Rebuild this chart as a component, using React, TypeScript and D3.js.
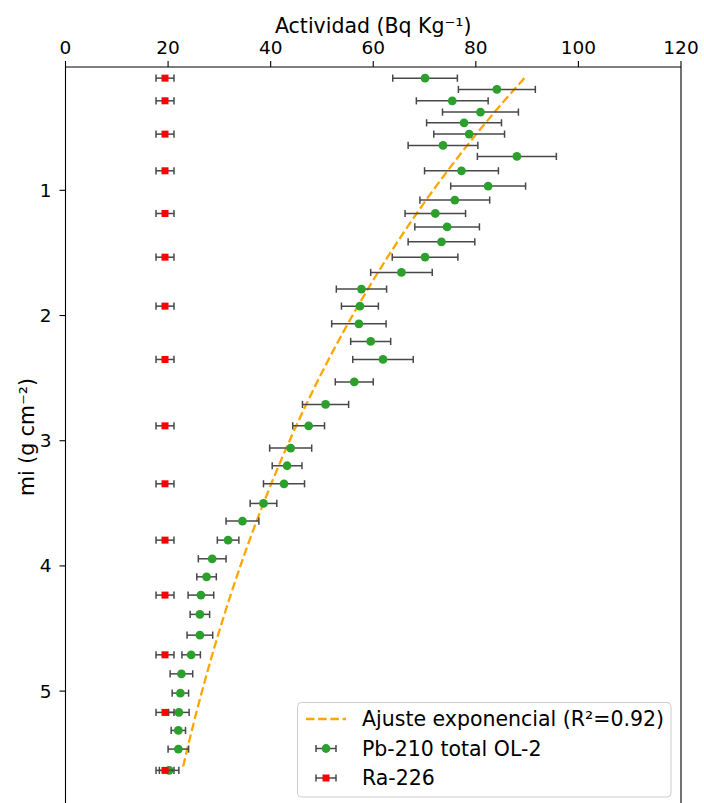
import React, { useEffect, useRef } from 'react';
import * as d3 from 'd3';

// Pb-210 total OL-2 (depth in g cm-2, activity in Bq/kg)
const pbDepth = [0.104, 0.194, 0.285, 0.375, 0.461, 0.551, 0.641, 0.729, 0.844, 0.966, 1.078, 1.185, 1.292, 1.411, 1.534, 1.656, 1.789, 1.925, 2.066, 2.207, 2.351, 2.53, 2.71, 2.881, 3.059, 3.2, 3.344, 3.501, 3.642, 3.794, 3.943, 4.087, 4.233, 4.387, 4.553, 4.71, 4.862, 5.016, 5.17, 5.314, 5.463, 5.633];
const pbValue = [70.1, 84.1, 75.4, 80.9, 77.7, 78.7, 73.6, 88.0, 77.2, 82.4, 75.9, 72.1, 74.4, 73.3, 70.1, 65.5, 57.7, 57.4, 57.2, 59.5, 61.9, 56.3, 50.7, 47.4, 43.9, 43.2, 42.6, 38.6, 34.5, 31.7, 28.6, 27.5, 26.4, 26.2, 26.2, 24.5, 22.6, 22.4, 22.1, 22.0, 22.0, 20.2];
const pbErr = [6.3, 7.5, 7.0, 7.4, 7.3, 6.9, 6.8, 7.7, 7.2, 7.3, 6.8, 5.9, 6.3, 6.5, 6.4, 6.0, 4.9, 3.6, 5.3, 3.9, 5.9, 3.7, 4.5, 3.1, 4.1, 2.9, 4.0, 2.6, 3.2, 2.1, 2.7, 1.9, 2.5, 1.9, 2.5, 1.8, 2.2, 1.6, 2.0, 1.4, 2.0, 1.9];

// Ra-226
const raDepth = [0.104, 0.285, 0.551, 0.844, 1.185, 1.534, 1.925, 2.351, 2.881, 3.344, 3.794, 4.233, 4.71, 5.17, 5.633];
const raValue = [19.4, 19.4, 19.4, 19.4, 19.4, 19.4, 19.4, 19.4, 19.4, 19.4, 19.4, 19.4, 19.4, 19.4, 19.4];
const raErr = [1.75, 1.75, 1.75, 1.75, 1.75, 1.75, 1.75, 1.75, 1.75, 1.75, 1.75, 1.75, 1.75, 1.75, 1.75];

// exponential fit A = A0 * exp(-k * mi)
const FIT_A0 = 91.8;
const FIT_K = 0.2476;

const xTicks = [0, 20, 40, 60, 80, 100, 120];
const yTicks = [1, 2, 3, 4, 5];

const W = 704;
const H = 803;
const FONT = 'DejaVu Sans, sans-serif';

const App = () => {
  const svgRef = useRef<SVGSVGElement>(null);

  useEffect(() => {
    const svg = d3.select(svgRef.current);
    svg.selectAll('*').remove();

    const left = 65.5, right = 681, top = 67;
    const x = d3.scaleLinear().domain([0, 120]).range([left, right]);
    const y = d3.scaleLinear().domain([0.015, 5.9]).range([top, top + 5.885 * 125.2]);

    // fit line
    const fitPts = pbDepth.map((d) => [FIT_A0 * Math.exp(-FIT_K * d), d]);
    svg.append('path')
      .attr('d', d3.line().x((d) => x(d[0])).y((d) => y(d[1]))(fitPts as [number, number][]))
      .attr('fill', 'none')
      .attr('stroke', '#ffa500')
      .attr('stroke-width', 2.3)
      .attr('stroke-dasharray', '8.5,3.7');

    const errColor = '#484848';
    const cap = 3.6;

    function drawSeries(depth, vals, errs, kind) {
      const g = svg.append('g');
      depth.forEach((d, i) => {
        const x0 = x(vals[i] - errs[i]);
        const x1 = x(vals[i] + errs[i]);
        const yy = y(d);
        g.append('line').attr('x1', x0).attr('x2', x1).attr('y1', yy).attr('y2', yy)
          .attr('stroke', errColor).attr('stroke-width', 1.5);
        [x0, x1].forEach((cx) => {
          g.append('line').attr('x1', cx).attr('x2', cx).attr('y1', yy - cap).attr('y2', yy + cap)
            .attr('stroke', errColor).attr('stroke-width', 1.5);
        });
      });
      depth.forEach((d, i) => {
        if (kind === 'circle') {
          g.append('circle').attr('cx', x(vals[i])).attr('cy', y(d)).attr('r', 4.4).attr('fill', '#2ca02c');
        } else {
          g.append('rect').attr('x', x(vals[i]) - 3.5).attr('y', y(d) - 3.5)
            .attr('width', 7).attr('height', 7).attr('fill', '#ff0000');
        }
      });
    }

    drawSeries(pbDepth, pbValue, pbErr, 'circle');
    drawSeries(raDepth, raValue, raErr, 'square');

    // spines
    svg.append('line').attr('x1', left).attr('x2', left).attr('y1', top).attr('y2', H)
      .attr('stroke', '#000').attr('stroke-width', 1.1);
    svg.append('line').attr('x1', right).attr('x2', right).attr('y1', top).attr('y2', H)
      .attr('stroke', '#000').attr('stroke-width', 1.1);
    svg.append('line').attr('x1', left).attr('x2', right).attr('y1', top).attr('y2', top)
      .attr('stroke', '#000').attr('stroke-width', 1.1);

    // top x ticks
    xTicks.forEach((t) => {
      svg.append('line').attr('x1', x(t)).attr('x2', x(t)).attr('y1', top).attr('y2', top - 6)
        .attr('stroke', '#000').attr('stroke-width', 1.1);
      svg.append('text').attr('x', x(t)).attr('y', top - 13)
        .attr('text-anchor', 'middle').attr('font-family', FONT).attr('font-size', 18.5)
        .text(t);
    });

    // left y ticks
    yTicks.forEach((t) => {
      svg.append('line').attr('x1', left).attr('x2', left - 6).attr('y1', y(t)).attr('y2', y(t))
        .attr('stroke', '#000').attr('stroke-width', 1.1);
      svg.append('text').attr('x', left - 14).attr('y', y(t)).attr('dy', '0.35em')
        .attr('text-anchor', 'end').attr('font-family', FONT).attr('font-size', 18.5)
        .text(t);
    });

    // axis labels
    svg.append('text').attr('x', (left + right) / 2).attr('y', 33)
      .attr('text-anchor', 'middle').attr('font-family', FONT).attr('font-size', 20.5)
      .text('Actividad (Bq Kg⁻¹)');
    svg.append('text').attr('transform', `translate(34,${437}) rotate(-90)`)
      .attr('text-anchor', 'middle').attr('font-family', FONT).attr('font-size', 20.5)
      .text('mi (g cm⁻²)');

    // legend
    const lg = svg.append('g');
    lg.append('rect').attr('x', 297.5).attr('y', 702.5).attr('width', 373.5).attr('height', 94.5)
      .attr('rx', 4).attr('fill', '#fff').attr('fill-opacity', 0.8)
      .attr('stroke', '#ccc').attr('stroke-width', 1);
    const rows = [719, 748.5, 778];
    const labels = ['Ajuste exponencial (R²=0.92)', 'Pb-210 total OL-2', 'Ra-226'];
    lg.append('line').attr('x1', 306).attr('x2', 346).attr('y1', rows[0]).attr('y2', rows[0])
      .attr('stroke', '#ffa500').attr('stroke-width', 2.3).attr('stroke-dasharray', '8.5,3.7');
    [1, 2].forEach((r) => {
      const yy = rows[r];
      lg.append('line').attr('x1', 316).attr('x2', 336).attr('y1', yy).attr('y2', yy)
        .attr('stroke', errColor).attr('stroke-width', 1.5);
      [316, 336].forEach((cx) => {
        lg.append('line').attr('x1', cx).attr('x2', cx).attr('y1', yy - cap).attr('y2', yy + cap)
          .attr('stroke', errColor).attr('stroke-width', 1.5);
      });
      if (r === 1) {
        lg.append('circle').attr('cx', 326).attr('cy', yy).attr('r', 4.4).attr('fill', '#2ca02c');
      } else {
        lg.append('rect').attr('x', 322.5).attr('y', yy - 3.5).attr('width', 7).attr('height', 7).attr('fill', '#ff0000');
      }
    });
    labels.forEach((l, i) => {
      lg.append('text').attr('x', 362).attr('y', rows[i]).attr('dy', '0.35em')
        .attr('font-family', FONT).attr('font-size', 20.5).text(l);
    });
  }, []);

  return (
    <svg ref={svgRef} width={W} height={H}
      style={{ position: 'absolute', left: 0, top: 0, background: '#fff' }} />
  );
};

export default App;
